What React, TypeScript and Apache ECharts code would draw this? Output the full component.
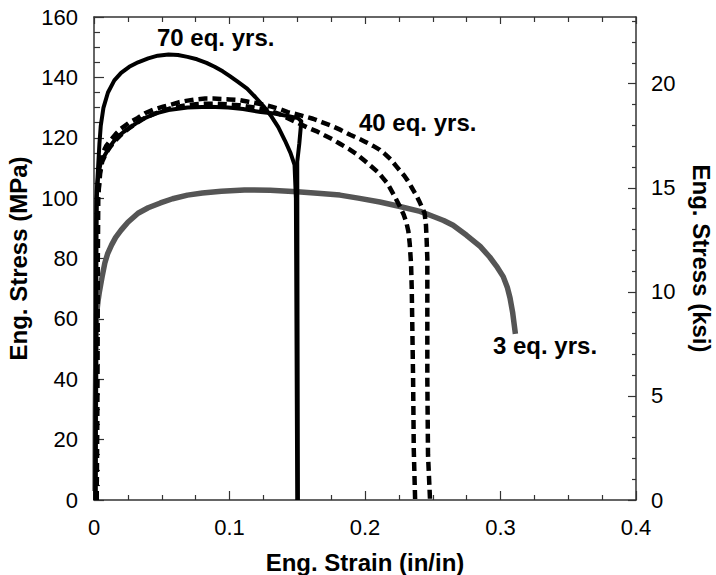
import React, { useEffect, useRef } from "react";
import * as echarts from "echarts";

// 70 eq. yrs. specimen A (solid, high peak)
const strain70a = [0.001, 0.0012, 0.0015, 0.002, 0.003, 0.004, 0.005, 0.007, 0.0103, 0.015, 0.02, 0.026, 0.0325, 0.04, 0.047, 0.055, 0.062, 0.069, 0.076, 0.083, 0.089, 0.095, 0.1, 0.106, 0.113, 0.119, 0.125, 0.131, 0.136, 0.141, 0.145, 0.148, 0.149, 0.1495, 0.15];
const stress70a = [0, 40, 90, 102, 110, 118, 124, 130, 135, 139, 141.5, 143.5, 145, 146.3, 147.2, 147.6, 147.4, 146.8, 146, 144.8, 143.5, 142, 140.5, 138.6, 136.3, 133.5, 130.5, 127, 123.5, 119, 115, 111, 100, 50, 0];

// 70 eq. yrs. specimen B (solid, plateau)
const strain70b = [0.001, 0.0015, 0.002, 0.003, 0.005, 0.0103, 0.014, 0.018, 0.022, 0.027, 0.035, 0.045, 0.055, 0.069, 0.085, 0.099, 0.11, 0.123, 0.133, 0.143, 0.1505, 0.153, 0.1515, 0.15, 0.1502, 0.1505];
const stress70b = [0, 50, 100, 107, 112, 116, 118.5, 120.5, 122, 123.5, 126, 128, 129.2, 130, 130.3, 130, 129.5, 128.5, 128, 127.2, 126.5, 125.5, 118, 112, 60, 0];

// 40 eq. yrs. specimen A (dashed, outer)
const strain40a = [0.002, 0.003, 0.0045, 0.0066, 0.009, 0.012, 0.016, 0.02, 0.026, 0.032, 0.038, 0.045, 0.051, 0.057, 0.063, 0.069, 0.075, 0.082, 0.088, 0.094, 0.1, 0.107, 0.113, 0.119, 0.125, 0.131, 0.137, 0.143, 0.152, 0.1616, 0.168, 0.175, 0.182, 0.189, 0.195, 0.2, 0.206, 0.211, 0.215, 0.219, 0.223, 0.226, 0.229, 0.2315, 0.2335, 0.2355, 0.238, 0.24, 0.242, 0.244, 0.245, 0.2455, 0.246, 0.246, 0.2465, 0.248];
const stress40a = [0, 100, 110, 115, 117.3, 119, 121.2, 123, 125, 126.5, 128.2, 129.5, 130.3, 131, 131.8, 132.3, 132.7, 133, 133, 132.8, 132.7, 132.5, 132, 131.5, 131, 130.3, 129.5, 128.5, 127.5, 126.3, 125.2, 124, 122.6, 121, 119.8, 118.7, 117.3, 116, 114.5, 112.8, 110.6, 109, 107.4, 105.8, 104.3, 102.7, 100.8, 99, 97, 95, 91, 86, 80, 40, 15, 0];

// 40 eq. yrs. specimen B (dashed, inner)
const strain40b = [0.002, 0.003, 0.0045, 0.006, 0.009, 0.012, 0.016, 0.02, 0.026, 0.032, 0.038, 0.045, 0.051, 0.057, 0.063, 0.069, 0.075, 0.082, 0.088, 0.094, 0.1, 0.107, 0.113, 0.119, 0.125, 0.131, 0.137, 0.143, 0.15, 0.157, 0.164, 0.17, 0.176, 0.1815, 0.188, 0.194, 0.2, 0.206, 0.21, 0.213, 0.216, 0.218, 0.222, 0.226, 0.2285, 0.2305, 0.232, 0.233, 0.234, 0.2345, 0.235, 0.2355, 0.236, 0.237];
const stress40b = [0, 100, 108, 112, 115, 117, 119.2, 121, 123.2, 125, 126.7, 128, 129, 129.8, 130.4, 130.8, 131.1, 131.3, 131.3, 131.2, 131, 130.8, 130.4, 130, 129.5, 128.8, 127.8, 126.5, 125, 123.5, 122.2, 120.8, 119.5, 118, 116.3, 114.5, 112.3, 110, 108.4, 106.8, 105.2, 103.7, 100.5, 97, 94.6, 92, 89, 85, 78, 70, 55, 40, 16.6, 0];

// 3 eq. yrs. (gray)
const strain3 = [0.0008, 0.001, 0.0015, 0.002, 0.003, 0.004, 0.006, 0.008, 0.01, 0.013, 0.016, 0.02, 0.025, 0.0325, 0.04, 0.049, 0.058, 0.069, 0.08, 0.094, 0.111, 0.13, 0.15, 0.165, 0.1815, 0.195, 0.211, 0.225, 0.2406, 0.25, 0.258, 0.265, 0.275, 0.285, 0.292, 0.297, 0.302, 0.305, 0.307, 0.309, 0.311];
const stress3 = [3, 30, 55, 62, 66, 69, 74, 78.5, 81.5, 84.5, 87, 89.4, 92, 95, 96.8, 98.4, 99.8, 101, 101.7, 102.3, 102.7, 102.6, 102.1, 101.6, 101, 100, 98.7, 97.3, 95.6, 94, 92.6, 91, 87.7, 84, 80.5, 77.5, 74, 70.5, 67, 62, 55];

const ksiMajor = [0, 5, 10, 15, 20];
const ksiMinor = [1, 2, 3, 4, 6, 7, 8, 9, 11, 12, 13, 14, 16, 17, 18, 19, 21, 22, 23];
const MPA_PER_KSI = 6.894757;

const labels = [
  { text: "70 eq. yrs.", x: 157, y: 37 },
  { text: "40 eq. yrs.", x: 359, y: 122 },
  { text: "3 eq. yrs.", x: 493, y: 345 },
];

const zip = (xs: number[], ys: number[]) => xs.map((x, i) => [x, ys[i]]);

const FONT = "Liberation Sans, Arial, Helvetica, sans-serif";
const AXIS_COLOR = "#333";

export default function App() {
  const ref = useRef<HTMLDivElement>(null);
  useEffect(() => {
    if (!ref.current) return;
    const chart = echarts.init(ref.current, undefined, { renderer: "svg" });
    const ksiMax = 160 / MPA_PER_KSI;
    const lineSeries = (data: number[][], color: string, width: number, dashed: boolean) => ({
      type: "line",
      data,
      showSymbol: false,
      symbol: "none",
      xAxisIndex: 0,
      yAxisIndex: 0,
      lineStyle: { color, width, type: dashed ? [9, 5] : "solid", cap: "butt", join: "round" },
      silent: true,
    });
    const axisLine = { show: true, onZero: false, lineStyle: { color: AXIS_COLOR, width: 1.5 } };
    const tickLine = { color: AXIS_COLOR, width: 1.2 };
    const nameStyle = { fontSize: 24, fontWeight: "bold", color: "#000", fontFamily: FONT };
    chart.setOption({
      animation: false,
      textStyle: { fontFamily: FONT },
      grid: { left: 94, right: 80, top: 17, bottom: 75, containLabel: false, outerBoundsMode: "none" },
      xAxis: [
        {
          type: "value",
          min: 0,
          max: 0.4,
          interval: 0.1,
          position: "bottom",
          name: "Eng. Strain (in/in)",
          nameLocation: "middle",
          nameGap: 50,
          nameTextStyle: nameStyle,
          axisLine,
          axisTick: { inside: true, length: 9, lineStyle: tickLine },
          minorTick: { show: true, splitNumber: 4, length: 5, lineStyle: tickLine },
          axisLabel: { fontSize: 22, color: "#000", margin: 16, fontFamily: FONT },
          splitLine: { show: false },
        },
        {
          type: "value",
          min: 0,
          max: 0.4,
          interval: 0.1,
          position: "top",
          axisLine,
          axisTick: { inside: true, length: 7, lineStyle: tickLine },
          minorTick: { show: true, splitNumber: 4, length: 5, lineStyle: tickLine },
          axisLabel: { show: false },
          splitLine: { show: false },
        },
      ],
      yAxis: [
        {
          type: "value",
          min: 0,
          max: 160,
          interval: 20,
          position: "left",
          name: "Eng. Stress (MPa)",
          nameLocation: "middle",
          nameGap: 57,
          nameRotate: 90,
          nameTextStyle: nameStyle,
          axisLine,
          axisTick: { show: true, inside: true, length: 10, lineStyle: tickLine },
          minorTick: { show: true, splitNumber: 4, length: 6, lineStyle: tickLine },
          axisLabel: { fontSize: 22, color: "#000", margin: 16, fontFamily: FONT },
          splitLine: { show: false },
        },
        {
          type: "value",
          min: 0,
          max: ksiMax,
          position: "right",
          name: "Eng. Stress (ksi)",
          nameLocation: "middle",
          nameGap: 53,
          nameRotate: -90,
          nameTextStyle: nameStyle,
          axisLine,
          axisTick: { show: true, inside: true, length: 8, customValues: ksiMajor, lineStyle: tickLine },
          axisLabel: { fontSize: 22, color: "#000", margin: 15, customValues: ksiMajor, fontFamily: FONT },
          splitLine: { show: false },
        },
        {
          type: "value",
          min: 0,
          max: ksiMax,
          position: "right",
          axisLine: { show: false, onZero: false },
          axisTick: { show: true, inside: true, length: 4, customValues: ksiMinor, lineStyle: tickLine },
          axisLabel: { show: false },
          splitLine: { show: false },
        },
      ],
      series: [
        lineSeries(zip(strain3, stress3), "#555555", 5.5, false),
        lineSeries(zip(strain40a, stress40a), "#000", 4.5, true),
        lineSeries(zip(strain40b, stress40b), "#000", 4.5, true),
        lineSeries(zip(strain70b, stress70b), "#000", 4, false),
        lineSeries(zip(strain70a, stress70a), "#000", 4, false),
      ],
      graphic: labels.map((l) => ({
        type: "text",
        x: l.x,
        y: l.y,
        silent: true,
        style: {
          text: l.text,
          font: `bold 24px ${FONT}`,
          fill: "#000",
          verticalAlign: "middle",
          align: "left",
        },
      })),
    });
    return () => chart.dispose();
  }, []);
  return (
    <div
      ref={ref}
      style={{ position: "absolute", left: 0, top: 0, width: 716, height: 575, background: "#fff" }}
    />
  );
}
